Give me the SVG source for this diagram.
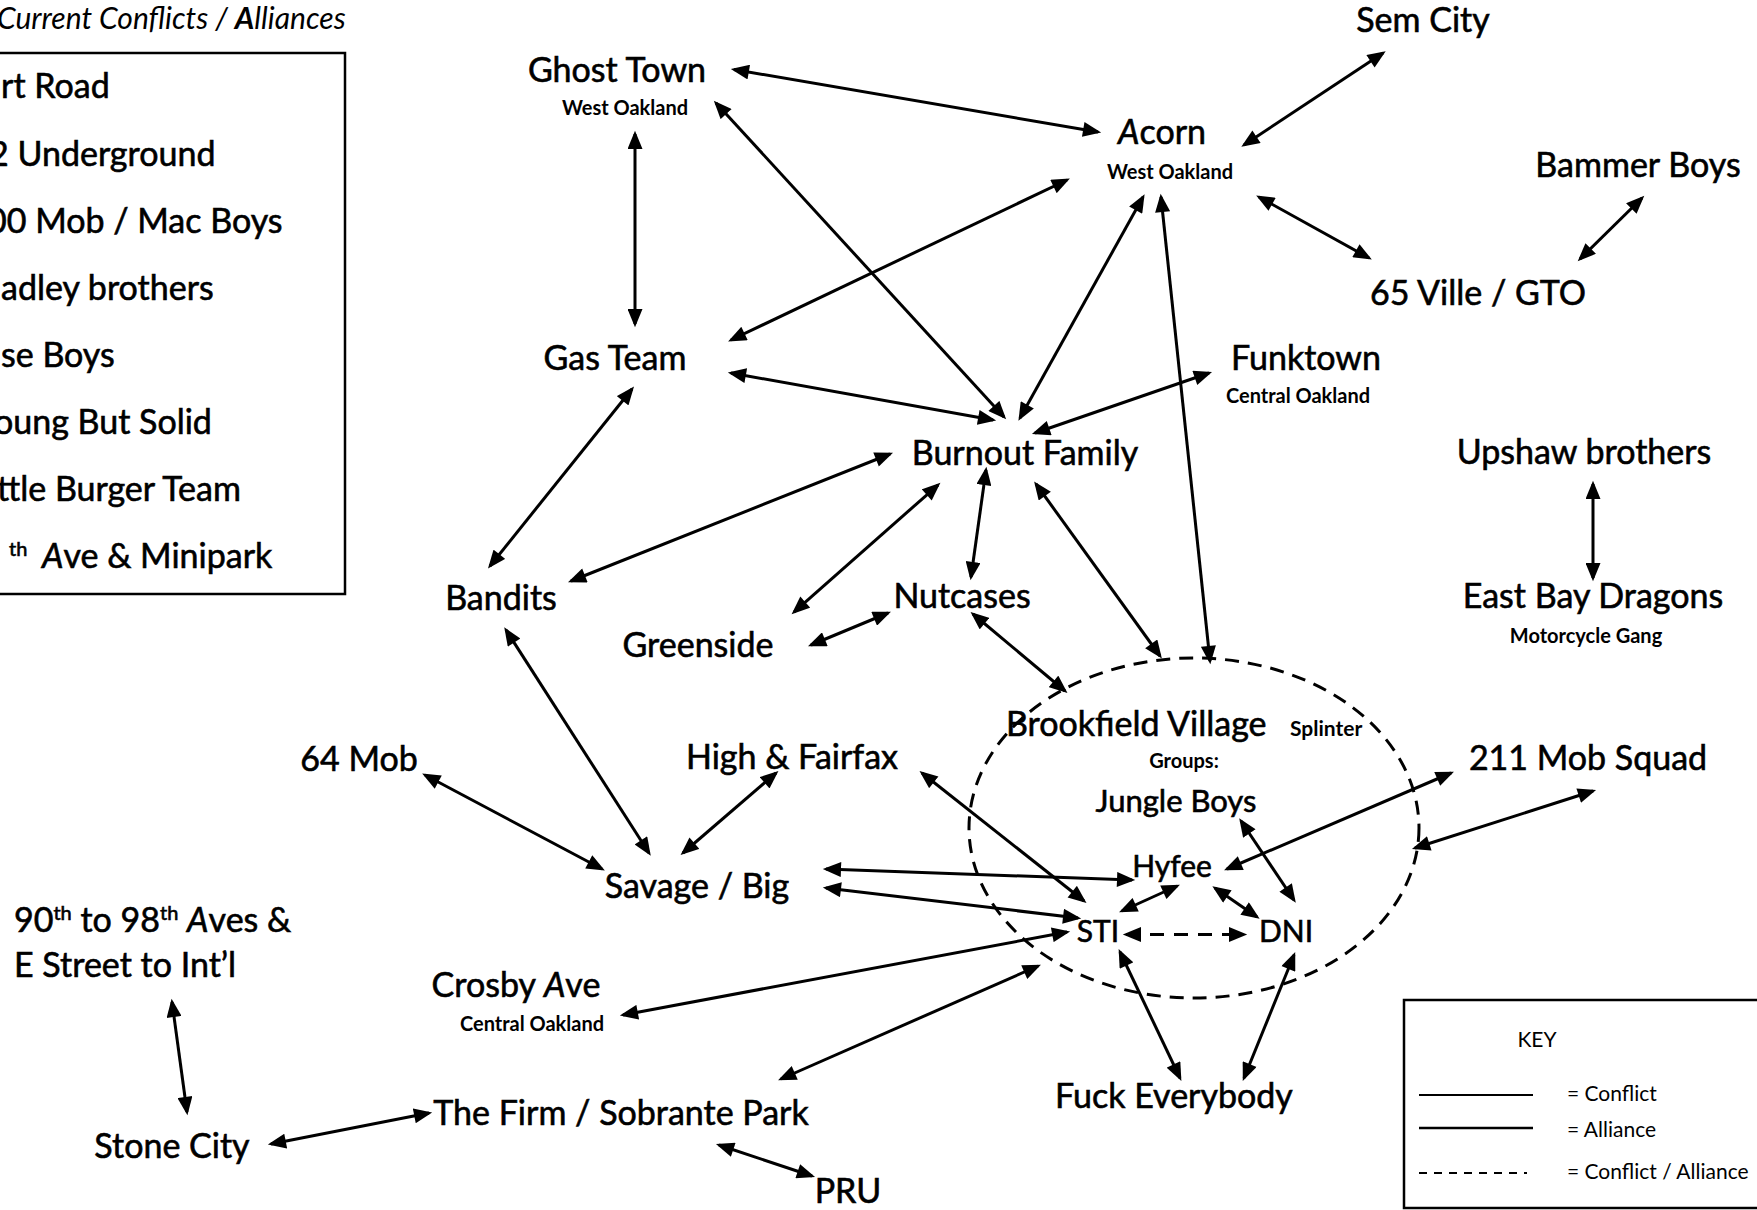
<svg xmlns="http://www.w3.org/2000/svg" width="1757" height="1210" viewBox="0 0 1757 1210">
<defs>
<style>
text{font-family:Lato,"Liberation Sans",sans-serif;fill:#000}
.lbl{font-size:34px;text-anchor:middle;stroke:#000;stroke-width:0.6}
.leg{font-size:34px;stroke:#000;stroke-width:0.6}
.sub{font-size:20px;font-weight:bold;text-anchor:middle}
.key{font-size:21px}
.sup{font-size:20px}
.it{font-style:italic}
.c{fill:none;stroke:#000;stroke-width:3;marker-start:url(#ah);marker-end:url(#ah)}
.d{stroke-dasharray:14 10}
</style>
<marker id="ah" markerUnits="userSpaceOnUse" markerWidth="19" markerHeight="15" refX="14" refY="7" orient="auto-start-reverse" viewBox="0 0 17 14">
<path d="M0,0 L17,7 L0,14 z" fill="#000"/>
</marker>
</defs>
<rect width="1757" height="1210" fill="#fff"/>

<g id="legend">
<text x="-3" y="29" style="font-size:30px;font-style:italic">Current Conflicts / <tspan font-weight="bold">A</tspan>lliances</text>
<rect x="-10" y="53" width="355" height="541" fill="none" stroke="#000" stroke-width="2.5"/>
<text class="leg" x="1" y="98">rt Road</text>
<text class="leg" x="-11" y="166">2 Underground</text>
<text class="leg" x="-13" y="233">00 Mob / Mac Boys</text>
<text class="leg" x="1" y="300">adley brothers</text>
<text class="leg" x="1" y="367">se Boys</text>
<text class="leg" x="-6" y="434">oung But Solid</text>
<text class="leg" x="-3" y="501">ttle Burger Team</text>
<text class="leg" x="9" y="568"><tspan class="sup" dy="-12">th</tspan><tspan x="42" dy="12"><tspan class="it">A</tspan>ve &amp; Minipark</tspan></text>
</g>

<g id="connectors">
<line class="c" x1="734" y1="69.5" x2="1098" y2="132"/>
<line class="c" x1="716" y1="103" x2="1004" y2="417"/>
<line class="c" x1="635" y1="134" x2="635" y2="324"/>
<line class="c" x1="1067" y1="180" x2="731" y2="340"/>
<line class="c" x1="1143" y1="197" x2="1020" y2="418"/>
<line class="c" x1="1161" y1="197" x2="1210" y2="661"/>
<line class="c" x1="1244" y1="145" x2="1383" y2="53"/>
<line class="c" x1="1259" y1="197" x2="1369" y2="258"/>
<line class="c" x1="1642" y1="198" x2="1580" y2="259"/>
<line class="c" x1="731" y1="373" x2="993" y2="420"/>
<line class="c" x1="1209" y1="373" x2="1035" y2="433"/>
<line class="c" x1="632" y1="389" x2="490" y2="566"/>
<line class="c" x1="890" y1="454" x2="571" y2="581"/>
<line class="c" x1="938" y1="485" x2="794" y2="612"/>
<line class="c" x1="986" y1="470" x2="971" y2="577"/>
<line class="c" x1="1036" y1="484" x2="1160" y2="656"/>
<line class="c" x1="811" y1="645" x2="888" y2="613"/>
<line class="c" x1="973" y1="614" x2="1065" y2="691"/>
<line class="c" x1="1593" y1="484" x2="1593" y2="578"/>
<line class="c" x1="506" y1="630" x2="649" y2="853"/>
<line class="c" x1="425" y1="775" x2="602" y2="869"/>
<line class="c" x1="776" y1="773" x2="683" y2="853"/>
<line class="c" x1="922" y1="773" x2="1084" y2="901"/>
<line class="c" x1="826" y1="869" x2="1132" y2="880"/>
<line class="c" x1="826" y1="888" x2="1078" y2="918"/>
<line class="c" x1="623" y1="1015" x2="1067" y2="932"/>
<line class="c" x1="781" y1="1079" x2="1038" y2="966"/>
<line class="c" x1="271" y1="1144" x2="429" y2="1113"/>
<line class="c" x1="719" y1="1145" x2="812" y2="1176"/>
<line class="c" x1="172" y1="1002" x2="187" y2="1112"/>
<line class="c" x1="1122" y1="911" x2="1177" y2="886"/>
<line class="c" x1="1215" y1="888" x2="1257" y2="917"/>
<line class="c d" x1="1126" y1="934.5" x2="1244" y2="934.5"/>
<line class="c" x1="1241" y1="821" x2="1294" y2="900"/>
<line class="c" x1="1227" y1="869" x2="1451" y2="773"/>
<line class="c" x1="1415" y1="848" x2="1593" y2="791"/>
<line class="c" x1="1120" y1="952" x2="1180" y2="1078"/>
<line class="c" x1="1294" y1="955" x2="1244" y2="1078"/>
</g>

<g id="brookfield-village">
<ellipse cx="1194" cy="828" rx="225" ry="170" fill="none" stroke="#000" stroke-width="3" stroke-dasharray="14 9"/>
<text x="1006" y="736" style="font-size:34px;stroke:#000;stroke-width:0.6">Brookfield Village</text>
<text x="1290" y="736" style="font-size:21px;font-weight:bold">Splinter</text>
<text class="sub" x="1184" y="768">Groups:</text>
</g>
<g id="jungle-boys"><text class="lbl" x="1176" y="812" style="font-size:31px">Jungle Boys</text></g>
<g id="hyfee"><text class="lbl" x="1172" y="877" style="font-size:30px">Hyfee</text></g>
<g id="sti"><text class="lbl" x="1098" y="942" style="font-size:30px">STI</text></g>
<g id="dni"><text class="lbl" x="1286" y="942" style="font-size:30px">DNI</text></g>

<g id="ghost-town"><text class="lbl" x="617" y="82">Ghost Town</text><text class="sub" x="625" y="115">West Oakland</text></g>
<g id="acorn"><text class="lbl" x="1162" y="144"><tspan class="it">A</tspan>corn</text><text class="sub" x="1170" y="179">West Oakland</text></g>
<g id="sem-city"><text class="lbl" x="1423" y="32">Sem City</text></g>
<g id="bammer-boys"><text class="lbl" x="1638" y="177">Bammer Boys</text></g>
<g id="65-ville"><text class="lbl" x="1478" y="305">65 Ville / GTO</text></g>
<g id="gas-team"><text class="lbl" x="615" y="370">Gas Team</text></g>
<g id="funktown"><text class="lbl" x="1306" y="370">Funktown</text><text class="sub" x="1298" y="403">Central Oakland</text></g>
<g id="burnout-family"><text class="lbl" x="1025" y="465">Burnout Family</text></g>
<g id="upshaw-brothers"><text class="lbl" x="1584" y="464">Upshaw brothers</text></g>
<g id="bandits"><text class="lbl" x="501" y="610">Bandits</text></g>
<g id="nutcases"><text class="lbl" x="962" y="608">Nutcases</text></g>
<g id="greenside"><text class="lbl" x="698" y="657">Greenside</text></g>
<g id="east-bay-dragons"><text class="lbl" x="1593" y="608">East Bay Dragons</text><text class="sub" x="1586" y="643">Motorcycle Gang</text></g>
<g id="211-mob-squad"><text class="lbl" x="1588" y="770">211 Mob Squad</text></g>
<g id="64-mob"><text class="lbl" x="359" y="771">64 Mob</text></g>
<g id="high-fairfax"><text class="lbl" x="792" y="769">High &amp; Fairfax</text></g>
<g id="savage-big"><text class="lbl" x="697" y="898">Savage / Big</text></g>
<g id="aves-90-98">
<text class="leg" x="14" y="932">90<tspan class="sup" dy="-12">th</tspan><tspan dy="12"> to 98</tspan><tspan class="sup" dy="-12">th</tspan><tspan dy="12"> <tspan class="it">A</tspan>ves &amp;</tspan></text>
<text class="leg" x="14" y="977">E Street to Int’l</text>
</g>
<g id="crosby-ave"><text class="lbl" x="516" y="997">Crosby <tspan class="it">A</tspan>ve</text><text class="sub" x="532" y="1031">Central Oakland</text></g>
<g id="stone-city"><text class="lbl" x="172" y="1158">Stone City</text></g>
<g id="the-firm"><text class="lbl" x="621" y="1125">The Firm / Sobrante Park</text></g>
<g id="pru"><text class="lbl" x="848" y="1203">PRU</text></g>
<g id="fuck-everybody"><text class="lbl" x="1174" y="1108">Fuck Everybody</text></g>

<g id="key">
<rect x="1404" y="1000" width="400" height="208" fill="none" stroke="#000" stroke-width="2.5"/>
<text class="key" x="1537" y="1047" text-anchor="middle">KEY</text>
<line x1="1419" y1="1095" x2="1533" y2="1095" stroke="#000" stroke-width="2"/>
<line x1="1419" y1="1128" x2="1533" y2="1128" stroke="#000" stroke-width="2.5"/>
<line x1="1419" y1="1173" x2="1527" y2="1173" stroke="#000" stroke-width="2" stroke-dasharray="8 7"/>
<text class="key" x="1567" y="1101">= Conflict</text>
<text class="key" x="1567" y="1137">= Alliance</text>
<text class="key" x="1567" y="1179">= Conflict / Alliance</text>
</g>
</svg>
